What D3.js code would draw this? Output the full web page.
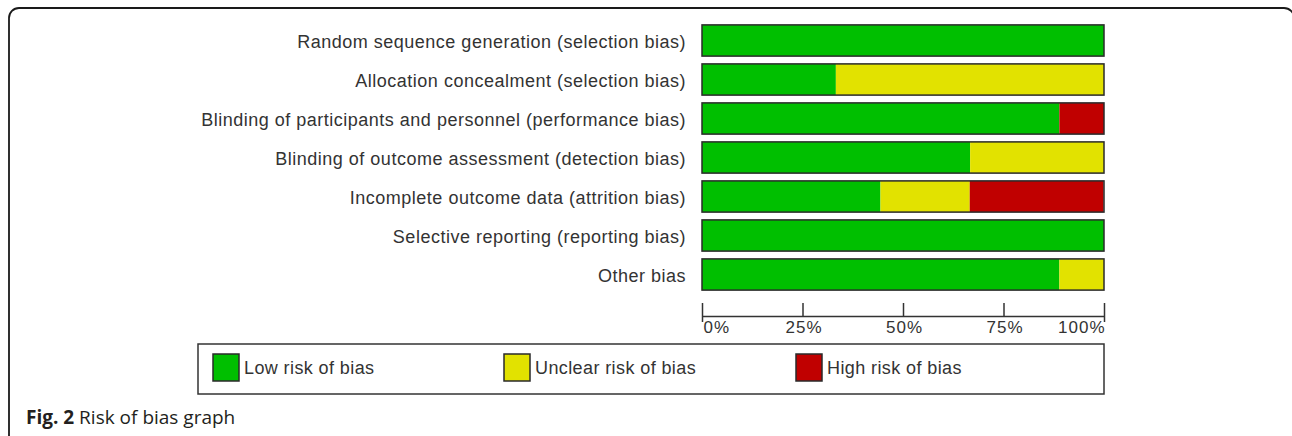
<!DOCTYPE html>
<html><head><meta charset="utf-8">
<script src="https://cdn.jsdelivr.net/npm/d3@7"></script>
<style>
html,body{margin:0;padding:0;background:#fff;}
svg{display:block;}
</style></head>
<body>
<svg id="chart" width="1292" height="436"></svg>
<script>
const categories = [
  "Random sequence generation (selection bias)",
  "Allocation concealment (selection bias)",
  "Blinding of participants and personnel (performance bias)",
  "Blinding of outcome assessment (detection bias)",
  "Incomplete outcome data (attrition bias)",
  "Selective reporting (reporting bias)",
  "Other bias"
];
const lowRisk     = [100, 33.3, 88.9, 66.7, 44.4, 100, 88.9];
const unclearRisk = [0, 66.7, 0, 33.3, 22.2, 0, 11.1];
const highRisk    = [0, 0, 11.1, 0, 33.3, 0, 0];
const seriesNames = ["Low risk of bias", "Unclear risk of bias", "High risk of bias"];
const seriesColors = ["#00bf00", "#e2e200", "#c00000"];
const tickValues = [0, 25, 50, 75, 100];
const tickLabels = ["0%", "25%", "50%", "75%", "100%"];

const svg = d3.select("#chart");
const textColor = "#333";
const sansFont = "Liberation Sans";

// outer frame
svg.append("rect").attr("x", 9).attr("y", 8).attr("width", 1285).attr("height", 440)
  .attr("rx", 10).attr("fill", "none").attr("stroke", "#1a1a1a").attr("stroke-width", 1.8);

const x = d3.scaleLinear().domain([0, 100]).range([702, 1104]);
const y = d3.scaleBand().domain(categories).range([21, 294]).paddingInner(0.2).paddingOuter(0.1);

const rows = categories.map((c, i) => {
  const vals = [lowRisk[i], unclearRisk[i], highRisk[i]];
  let acc = 0;
  return {cat: c, segs: vals.map((v, k) => { const s = {x0: acc, x1: acc + v, k}; acc += v; return s; })};
});

const g = svg.append("g");
rows.forEach(r => {
  g.selectAll(null).data(r.segs.filter(s => s.x1 > s.x0)).enter().append("rect")
    .attr("x", s => x(s.x0)).attr("width", s => x(s.x1) - x(s.x0))
    .attr("y", y(r.cat)).attr("height", y.bandwidth())
    .attr("fill", s => seriesColors[s.k]);
  g.append("rect").attr("x", x(0)).attr("width", x(100) - x(0))
    .attr("y", y(r.cat)).attr("height", y.bandwidth())
    .attr("fill", "none").attr("stroke", "#2a2a2a").attr("stroke-width", 1.5);
});

// category labels
svg.append("g").selectAll("text").data(categories).enter().append("text")
  .attr("x", 686).attr("y", d => y(d) + y.bandwidth() / 2 + 7)
  .attr("text-anchor", "end")
  .style("font-family", sansFont)
  .attr("font-size", 18).attr("letter-spacing", 0.5)
  .attr("fill", textColor).text(d => d);

// axis
const axisY = 316;
const axis = d3.axisBottom(x).tickValues(tickValues).tickSizeInner(-13).tickSizeOuter(0)
  .tickFormat((d, i) => tickLabels[i]);
const ag = svg.append("g").attr("transform", `translate(0,${axisY})`).call(axis);
ag.select(".domain").attr("stroke", "#333").attr("stroke-width", 1.5);
ag.selectAll(".tick line").attr("stroke", "#333").attr("stroke-width", 1.5);
ag.selectAll(".tick").filter(d => d === 0 || d === 100).append("line")
  .attr("y1", 0).attr("y2", 6).attr("stroke", "#333").attr("stroke-width", 1.5);
ag.selectAll(".tick text")
  .attr("y", 17).attr("dy", 0)
  .style("font-family", sansFont).style("font-size", "17px")
  .attr("letter-spacing", 1).attr("fill", textColor)
  .attr("text-anchor", d => d === 0 ? "start" : (d === 100 ? "end" : "middle"))
  .attr("dx", 1);

// legend
svg.append("rect").attr("x", 198).attr("y", 344).attr("width", 906).attr("height", 50)
  .attr("fill", "#fff").attr("stroke", "#333").attr("stroke-width", 1.5);
const legX = [213, 504, 796];
const lg = svg.append("g").selectAll("g").data(seriesNames).enter().append("g")
  .attr("transform", (d, i) => `translate(${legX[i]},354)`);
lg.append("rect").attr("width", 26).attr("height", 27)
  .attr("fill", (d, i) => seriesColors[i]).attr("stroke", "#2a2a2a").attr("stroke-width", 1.5);
lg.append("text").attr("x", 31).attr("y", 20)
  .style("font-family", sansFont)
  .attr("font-size", 18).attr("letter-spacing", 0.4).attr("fill", textColor).text(d => d);

// caption
const cap = svg.append("text").attr("x", 26).attr("y", 424)
  .style("font-family", "Open Sans").attr("font-size", 19).attr("fill", "#231f20");
cap.append("tspan").attr("font-weight", "bold").text("Fig. 2");
cap.append("tspan").text(" Risk of bias graph");
</script>
</body></html>
